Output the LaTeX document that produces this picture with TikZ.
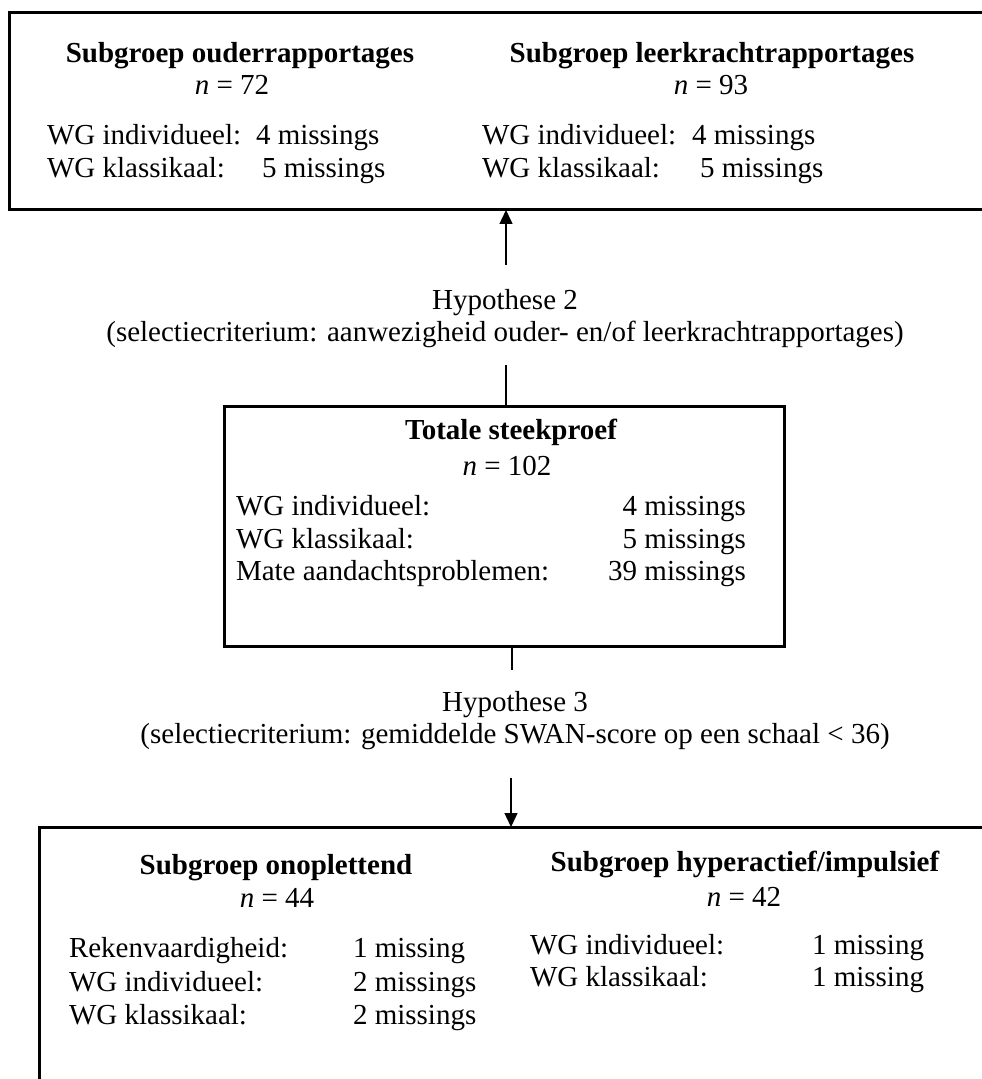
\documentclass[tikz,border=0pt]{standalone}
\usepackage{fontspec}
\setmainfont{Liberation Serif}
\usetikzlibrary{arrows.meta}
\begin{document}
\begin{tikzpicture}[x=0.5pt,y=-0.5pt,
  every node/.style={font=\fontsize{14.5}{16.5}\selectfont, inner sep=0pt, outer sep=0pt},
  box/.style={draw, line width=1.5pt, minimum width=#1},
  ttl/.style={font=\fontsize{14.5}{16.5}\selectfont\bfseries, anchor=mid},
  cnt/.style={anchor=mid},
  lab/.style={anchor=mid west},
  valr/.style={anchor=mid east},
  conn/.style={line width=0.7pt},
  arr/.style={line width=0.7pt, -{Triangle[length=7pt,width=6.5pt]}}]
\useasboundingbox (0,0) rectangle (981,1079);
\fill[white] (0,0) rectangle (981,1079);

% boxes
\node[box=487pt, minimum height=98.5pt, anchor=north west] (top) at (9,13) {};
\node[box=280pt, minimum height=120pt, anchor=north west] (mid) at (224,406) {};
\node[box=472pt, minimum height=140pt, anchor=north west] (bot) at (39,827) {};

% top box contents
\node[ttl] (t1) at (240,58) {Subgroep ouderrapportages};
\node[cnt] (n1) at (232,90) {\textit{n} = 72};
\node[lab] (t1a) at (47,140) {WG individueel:};
\node[lab] (t1b) at (256,140) {4 missings};
\node[lab] (t1c) at (47,173) {WG klassikaal:};
\node[lab] (t1d) at (262,173) {5 missings};
\node[ttl] (t2) at (712,58) {Subgroep leerkrachtrapportages};
\node[cnt] (n2) at (711,90) {\textit{n} = 93};
\node[lab] (t2a) at (482,140) {WG individueel:};
\node[lab] (t2b) at (692,140) {4 missings};
\node[lab] (t2c) at (482,173) {WG klassikaal:};
\node[lab] (t2d) at (700,173) {5 missings};

% hypothese 2
\node[cnt] (h2) at (505,305) {Hypothese 2};
\node[cnt] (h2s) at (505,337) {(selectiecriterium: aanwezigheid ouder- en/of leerkrachtrapportages)};
\coordinate (a1) at (506,265);
\draw[arr] (a1) -- (a1 |- top.south);
\coordinate (l2) at (506,365);
\draw[conn] (l2) -- (l2 |- mid.north);

% middle box contents
\node[ttl] (tm) at (511,435) {Totale steekproef};
\node[cnt] (nm) at (507,471) {\textit{n} = 102};
\node[lab] (ma) at (236,511) {WG individueel:};
\node[valr] (mb) at (746,511) {4 missings};
\node[lab] (mc) at (236,544) {WG klassikaal:};
\node[valr] (md) at (746,544) {5 missings};
\node[lab] (me) at (236,576) {Mate aandachtsproblemen:};
\node[valr] (mf) at (746,576) {39 missings};

% hypothese 3
\coordinate (l3) at (512,670);
\draw[conn] (l3 |- mid.south) -- (l3);
\node[cnt] (h3) at (515,707) {Hypothese 3};
\node[cnt] (h3s) at (515,739) {(selectiecriterium: gemiddelde SWAN-score op een schaal < 36)};
\coordinate (a3) at (511,778);
\draw[arr] (a3) -- (a3 |- bot.north);

% bottom box contents
\node[ttl] (b1) at (276,870) {Subgroep onoplettend};
\node[cnt] (nb1) at (277,903) {\textit{n} = 44};
\node[lab] (b1a) at (69,953) {Rekenvaardigheid:};
\node[lab] (b1b) at (353,953) {1 missing};
\node[lab] (b1c) at (69,987) {WG individueel:};
\node[lab] (b1d) at (353,987) {2 missings};
\node[lab] (b1e) at (69,1020) {WG klassikaal:};
\node[lab] (b1f) at (353,1020) {2 missings};
\node[ttl] (b2) at (745,867) {Subgroep hyperactief/impulsief};
\node[cnt] (nb2) at (744,902) {\textit{n} = 42};
\node[lab] (b2a) at (530,950) {WG individueel:};
\node[lab] (b2b) at (812,950) {1 missing};
\node[lab] (b2c) at (530,982) {WG klassikaal:};
\node[lab] (b2d) at (812,982) {1 missing};
\end{tikzpicture}
\end{document}
